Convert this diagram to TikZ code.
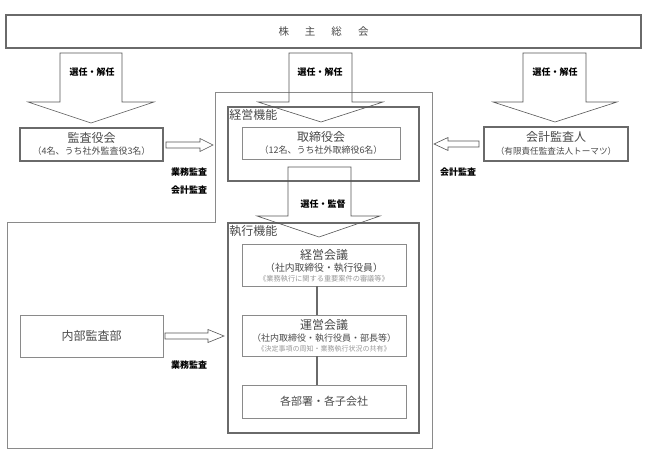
\documentclass[tikz,border=0pt]{standalone}
\usepackage{fontspec}
\setmainfont{Noto Sans CJK JP}
\usetikzlibrary{calc}
\definecolor{boxline}{HTML}{6A6A6A}
\definecolor{thinline}{HTML}{8A8A8A}
\definecolor{txt}{HTML}{4A4A4A}
\definecolor{smalltxt}{HTML}{999999}
\definecolor{arrline}{HTML}{555555}
\tikzset{
  thickbox/.style={draw=boxline, line width=1.6pt, rectangle, inner sep=0pt},
  thinbox/.style={draw=thinline, line width=0.8pt, rectangle, inner sep=0pt},
  blockarrow/.style={draw=arrline, line width=0.6pt},
  outerline/.style={draw=thinline, line width=0.8pt},
  conn/.style={draw=boxline, line width=1.6pt},
  ttl/.style={inner sep=0pt, text=txt, font=\fontsize{12}{14}\selectfont},
  sub/.style={inner sep=0pt, text=txt, font=\fontsize{9}{11}\selectfont},
  tiny/.style={inner sep=0pt, text=smalltxt, font=\fontsize{7.2}{9}\selectfont},
  lbl/.style={inner sep=0pt, text=black, font=\fontsize{9}{11}\selectfont\bfseries},
}
\begin{document}
\begin{tikzpicture}[x=1pt,y=-1pt]
\useasboundingbox[fill=white] (0,0) rectangle (647,463);

% outer polyline
\draw[outerline] (215,92) -- (432,92) -- (432,448) -- (7,448) -- (7,222) -- (215,222) -- cycle;

% top box
\node[thickbox, minimum width=635pt, minimum height=33pt] (kabu) at (323.5,31.5) {};
\node[inner sep=0pt, text=txt, font=\fontsize{10.5}{12}\selectfont] (kabut) at (kabu.center)
  {株\hspace{16pt}主\hspace{16pt}総\hspace{16pt}会};

% group boxes
\node[thickbox, minimum width=191pt, minimum height=74pt] (keieikino) at (323.5,144) {};
\node[ttl, anchor=north west] (keieikinot) at ($(keieikino.north west)+(2,3)$) {経営機能};
\node[thickbox, minimum width=191pt, minimum height=210pt] (shikko) at (323.5,328) {};
\node[ttl, anchor=north west] (shikkot) at ($(shikko.north west)+(2,3)$) {執行機能};

% boxes
\node[thickbox, minimum width=143pt, minimum height=33pt] (kansa) at (91.5,144.5) {};
\node[ttl] (kansa1) at (91.5,138) {監査役会};
\node[sub] (kansa2) at (91.5,151.5) {（4名、うち社外監査役3名）};

\node[thinbox, minimum width=158pt, minimum height=32pt] (tori) at (321,143) {};
\node[ttl] (tori1) at (321,136.5) {取締役会};
\node[sub] (tori2) at (321,150.5) {（12名、うち社外取締役6名）};

\node[thickbox, minimum width=144pt, minimum height=34pt] (kaikei) at (556,144) {};
\node[ttl] (kaikei1) at (556,137) {会計監査人};
\node[sub, font=\fontsize{8.6}{10}\selectfont] (kaikei2) at (556,151.5) {（有限責任監査法人トーマツ）};

\node[thinbox, minimum width=164pt, minimum height=42pt] (keieikaigi) at (324,265) {};
\node[ttl] (keieikaigi1) at (324,254.5) {経営会議};
\node[sub, font=\fontsize{9.8}{11}\selectfont] (keieikaigi2) at (324,268) {（社内取締役・執行役員）};
\node[tiny] (keieikaigi3) at (324,279) {《業務執行に関する重要案件の審議等》};

\node[thinbox, minimum width=164pt, minimum height=41pt] (uneikaigi) at (324,335.5) {};
\node[ttl] (uneikaigi1) at (324,325) {運営会議};
\node[sub] (uneikaigi2) at (324,338) {（社内取締役・執行役員・部長等）};
\node[tiny, font=\fontsize{7}{9}\selectfont] (uneikaigi3) at (324,348.5) {《決定事項の周知・業務執行状況の共有》};

\node[thinbox, minimum width=164pt, minimum height=33pt] (kakubu) at (324,401.5) {};
\node[ttl, font=\fontsize{11}{13}\selectfont] (kakubut) at (kakubu.center) {各部署・各子会社};

\node[thinbox, minimum width=143pt, minimum height=42pt] (naibu) at (91.5,336) {};
\node[ttl] (naibut) at (naibu.center) {内部監査部};

% connectors
\draw[conn] ($(keieikaigi.south)+(-7,0)$) -- ($(uneikaigi.north)+(-7,0)$);
\draw[conn] ($(uneikaigi.south)+(-7,0)$) -- ($(kakubu.north)+(-7,0)$);

% block arrows down
\draw[blockarrow] (60,53) -- (60,102) -- (28,102) -- (91,123) -- (154,102) -- (122,102) -- (122,53) -- cycle;
\draw[blockarrow] (289,53) -- (289,102) -- (258,102) -- (321,122) -- (383,102) -- (352,102) -- (352,53) -- cycle;
\draw[blockarrow] (523,53) -- (523,102) -- (493,102) -- (555,122) -- (617,102) -- (586,102) -- (586,53) -- cycle;
\draw[blockarrow] (288,167) -- (288,216) -- (257,216) -- (319,237) -- (380,216) -- (351,216) -- (351,167) -- cycle;

% small block arrows
\draw[blockarrow] (166,142) -- (200,142) -- (200,138.5) -- (213,145) -- (200,151.5) -- (200,148) -- (166,148) -- cycle;
\draw[blockarrow] (479,141) -- (448,141) -- (448,137.5) -- (434,144) -- (448,150.5) -- (448,147) -- (479,147) -- cycle;
\draw[blockarrow] (165,333) -- (208,333) -- (208,329.5) -- (224,336) -- (208,342.5) -- (208,339) -- (165,339) -- cycle;

% labels
\node[lbl] (l1) at (92,72) {選任・解任};
\node[lbl] (l2) at (320,72) {選任・解任};
\node[lbl] (l3) at (555,72) {選任・解任};
\node[lbl] (l4) at (323,204) {選任・監督};
\node[lbl] (l5) at (189,172) {業務監査};
\node[lbl] (l6) at (189,190) {会計監査};
\node[lbl] (l7) at (458,172) {会計監査};
\node[lbl] (l8) at (189,365) {業務監査};
\end{tikzpicture}
\end{document}
